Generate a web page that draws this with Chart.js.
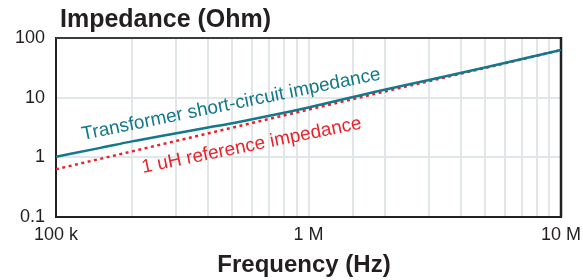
<!DOCTYPE html>
<html>
<head>
<meta charset="utf-8">
<script src="https://cdn.jsdelivr.net/npm/chart.js@4.4.1/dist/chart.umd.min.js"></script>
<style>
  html, body { margin: 0; padding: 0; background: #fff; }
  #wrap { width: 583px; height: 280px; position: relative; }
</style>
</head>
<body>
<div id="wrap"><canvas id="myChart" width="583" height="280"></canvas></div>
<script>
// values
const freqs = [1e5, 1.5e5, 2e5, 3e5, 4e5, 5e5, 7e5, 1e6, 2e6, 3e6, 5e6, 7e6, 1e7];
const shortCircuit = [1.02, 1.44, 1.85, 2.54, 3.16, 3.74, 4.97, 6.85, 13.6, 19.7, 32, 44.5, 62.8];
const refFreqs = [1e5, 1e6, 1e7];
const refImpedance = [0.63, 6.3, 63];

const xTickLabels = { 1e5: '100 k', 1e6: '1 M', 1e7: '10 M' };
const yTicks = [0.1, 1, 10, 100];
const yTickLabels = ['0.1', '1', '10', '100'];

const teal = '#13798a';
const red = '#e8232b';
const ink = '#231f20';
const font = '"Liberation Sans", Arial, sans-serif';

function toPoints(xs, ys) {
    return xs.map((x, i) => ({ x: x, y: ys[i] }));
}

const decor = {
    id: 'decor',
    beforeDatasetsDraw(chart) {
        const ctx = chart.ctx;
        const a = chart.chartArea;
        ctx.save();
        // top and right edge of the frame
        ctx.lineWidth = 2;
        ctx.strokeStyle = '#3c3c3c';
        ctx.beginPath();
        ctx.moveTo(a.left, a.top);
        ctx.lineTo(a.right, a.top);
        ctx.stroke();
        ctx.strokeStyle = ink;
        ctx.lineWidth = 2.5;
        ctx.beginPath();
        ctx.moveTo(a.right, a.top - 1);
        ctx.lineTo(a.right, a.bottom);
        ctx.stroke();
        ctx.restore();
    },
    afterDraw(chart) {
        const ctx = chart.ctx;
        ctx.save();
        ctx.fillStyle = ink;
        ctx.textBaseline = 'alphabetic';
        ctx.font = 'bold 25px ' + font;
        ctx.textAlign = 'left';
        ctx.fillText('Impedance (Ohm)', 60, 27);
        ctx.font = 'bold 24px ' + font;
        ctx.textAlign = 'center';
        ctx.fillText('Frequency (Hz)', 304, 272);

        ctx.font = '19px ' + font;
        ctx.textAlign = 'left';
        const ang = -11.5 * Math.PI / 180;
        ctx.fillStyle = teal;
        ctx.translate(83, 140);
        ctx.rotate(ang);
        ctx.fillText('Transformer short-circuit impedance', 0, 0);
        ctx.setTransform(1, 0, 0, 1, 0, 0);
        ctx.fillStyle = red;
        ctx.translate(143, 173);
        ctx.rotate(ang);
        ctx.fillText('1 uH reference impedance', 0, 0);
        ctx.restore();
    }
};

window.onload = () => {
    const ctx = document.getElementById('myChart').getContext('2d');
    const myChart = new Chart(ctx, {
        type: 'line',
        data: {
            datasets: [{
                label: 'Transformer short-circuit impedance',
                data: toPoints(freqs, shortCircuit),
                borderColor: teal,
                borderWidth: 2.5,
                pointRadius: 0,
                cubicInterpolationMode: 'monotone',
                fill: false
            }, {
                label: '1 uH reference impedance',
                data: toPoints(refFreqs, refImpedance),
                borderColor: red,
                borderWidth: 2.5,
                borderDash: [3, 3.5],
                pointRadius: 0,
                tension: 0,
                fill: false
            }]
        },
        options: {
            responsive: false,
            animation: false,
            layout: { padding: { top: 38, right: 22, left: 0, bottom: 0 } },
            plugins: {
                legend: { display: false },
                tooltip: { enabled: false }
            },
            scales: {
                x: {
                    type: 'logarithmic',
                    min: 1e5,
                    max: 1e7,
                    afterFit: (s) => { s.height = 63; s.paddingLeft = 0; s.paddingRight = 0; },
                    grid: { color: '#e1e6e9', lineWidth: 2, drawTicks: false },
                    border: { color: ink, width: 2 },
                    ticks: {
                        autoSkip: false,
                        maxRotation: 0,
                        padding: 7,
                        color: ink,
                        font: { family: font, size: 18 },
                        callback: (v) => xTickLabels[v] || ''
                    }
                },
                y: {
                    type: 'logarithmic',
                    min: 0.1,
                    max: 100,
                    afterFit: (s) => { s.width = 56; s.paddingTop = 0; s.paddingBottom = 0; },
                    afterBuildTicks: (s) => { s.ticks = yTicks.map(v => ({ value: v })); },
                    grid: { color: '#e1e6e9', lineWidth: 2, drawTicks: false },
                    border: { color: ink, width: 2 },
                    ticks: {
                        padding: 11,
                        color: ink,
                        font: { family: font, size: 18 },
                        callback: (v) => {
                            const i = yTicks.indexOf(v);
                            return i >= 0 ? yTickLabels[i] : '';
                        }
                    }
                }
            }
        },
        plugins: [decor]
    });
}
</script>
</body>
</html>
